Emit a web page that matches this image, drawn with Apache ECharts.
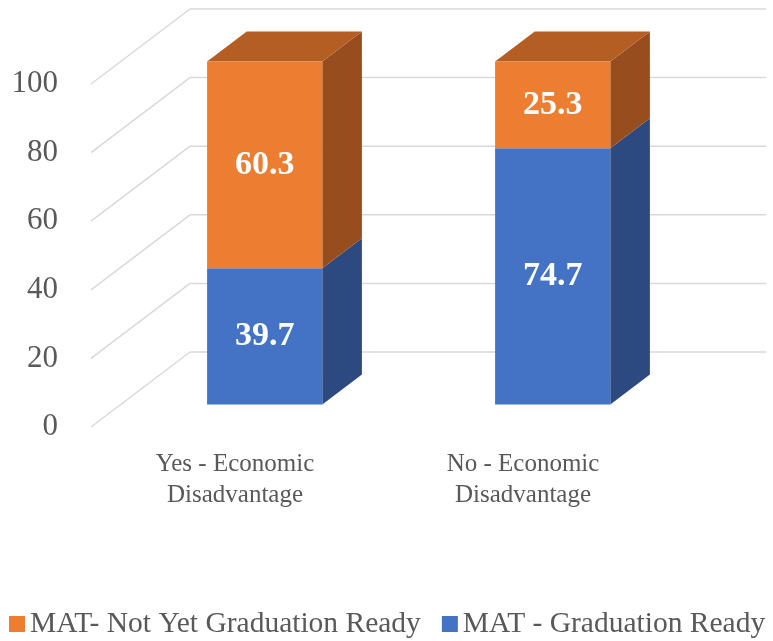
<!DOCTYPE html>
<html>
<head>
<meta charset="utf-8">
<script src="https://cdn.jsdelivr.net/npm/echarts@6/dist/echarts.min.js"></script>
<style>
  html, body { margin: 0; padding: 0; background: #fff; }
  #chart { width: 773px; height: 641px; }
</style>
</head>
<body>
<div id="chart"></div>
<script>
// data
const categories = ["Yes - Economic\nDisadvantage", "No - Economic\nDisadvantage"];
const graduationReady = [39.7, 74.7];
const notYetReady = [60.3, 25.3];
const yTicks = [0, 20, 40, 60, 80, 100];
const seriesNames = ["MAT - Graduation Ready", "MAT- Not Yet Graduation Ready"];

// fake 3d: full depth of the floor, bar front offset and bar depth (fractions)
const DX = 99, DY = -75;
const FRONT = 0.3, DEPTH = 0.4;
const FONT = "'Liberation Serif', 'Times New Roman', serif";

const blueCols = { front: "#4472C4", side: "#2C4A80", top: "#3760A8" };
const orangeCols = { front: "#ED7D31", side: "#984D1E", top: "#B45E23" };

function wallItem(params, api) {
  const cs = params.coordSys;
  const y = api.coord([0, api.value(1)])[1];
  const left = cs.x, right = cs.x + cs.width;
  const style = { stroke: "#D9D9D9", lineWidth: 1.5, fill: null };
  return {
    type: "group",
    children: [
      { type: "line", shape: { x1: left, y1: y, x2: left + DX, y2: y + DY }, style },
      { type: "line", shape: { x1: left + DX, y1: y + DY, x2: right + DX, y2: y + DY }, style }
    ]
  };
}

// drawTop: only the segment at the top of the stack shows its lid
function barRenderer(cols, drawTop) {
  return function (params, api) {
    const cat = api.value(0), lo = api.value(1), hi = api.value(2);
    const b = api.coord([cat, lo]);
    const t = api.coord([cat, hi]);
    const band = api.size([1, 0])[0];
    const w = band * DEPTH;
    const x0 = b[0] - w / 2 + FRONT * DX, x1 = x0 + w;
    const yb = b[1] + FRONT * DY, yt = t[1] + FRONT * DY;
    const dx = DEPTH * DX, dy = DEPTH * DY;
    const children = [
      { type: "polygon", shape: { points: [[x1, yt], [x1 + dx, yt + dy], [x1 + dx, yb + dy], [x1, yb]] }, style: { fill: cols.side } }
    ];
    if (drawTop) {
      children.push({ type: "polygon", shape: { points: [[x0, yt], [x1, yt], [x1 + dx, yt + dy], [x0 + dx, yt + dy]] }, style: { fill: cols.top } });
    }
    children.push(
      { type: "rect", shape: { x: x0, y: yt, width: w, height: yb - yt }, style: { fill: cols.front } },
      {
        type: "text",
        x: (x0 + x1) / 2, y: (yt + yb) / 2,
        style: {
          text: (hi - lo).toFixed(1), fill: "#fff", align: "center", verticalAlign: "middle",
          font: "bold 34px " + FONT
        }
      }
    );
    return { type: "group", children };
  };
}

const chart = echarts.init(document.getElementById("chart"));
chart.setOption({
  animation: false,
  grid: { left: 91, right: 106, top: 84, bottom: 214 },
  xAxis: {
    type: "category",
    data: categories,
    axisLine: { show: false },
    axisTick: { show: false },
    axisLabel: { color: "#595959", fontFamily: FONT, fontSize: 25, lineHeight: 31, margin: 22 }
  },
  yAxis: {
    type: "value",
    min: 0, max: 100, interval: 20,
    axisLine: { show: false },
    axisTick: { show: false },
    splitLine: { show: false },
    axisLabel: { color: "#595959", fontFamily: FONT, fontSize: 31, margin: 33 }
  },
  legend: {
    data: [seriesNames[1], seriesNames[0]],
    left: 9, top: 609, width: 764, padding: 0,
    itemWidth: 16, itemHeight: 16, itemGap: 21,
    icon: "rect",
    textStyle: { color: "#595959", fontFamily: FONT, fontSize: 29.5 }
  },
  series: [
    {
      type: "custom", name: "walls", silent: true,
      renderItem: wallItem,
      data: yTicks.map(v => [0, v]),
      z: 1
    },
    {
      type: "custom", name: seriesNames[0],
      renderItem: barRenderer(blueCols, false),
      itemStyle: { color: blueCols.front },
      encode: { x: 0, y: 2 },
      data: graduationReady.map((v, i) => [i, 0, v]),
      z: 2
    },
    {
      type: "custom", name: seriesNames[1],
      renderItem: barRenderer(orangeCols, true),
      itemStyle: { color: orangeCols.front },
      encode: { x: 0, y: 2 },
      data: notYetReady.map((v, i) => [i, graduationReady[i], graduationReady[i] + v]),
      z: 3
    }
  ]
});
</script>
</body>
</html>
